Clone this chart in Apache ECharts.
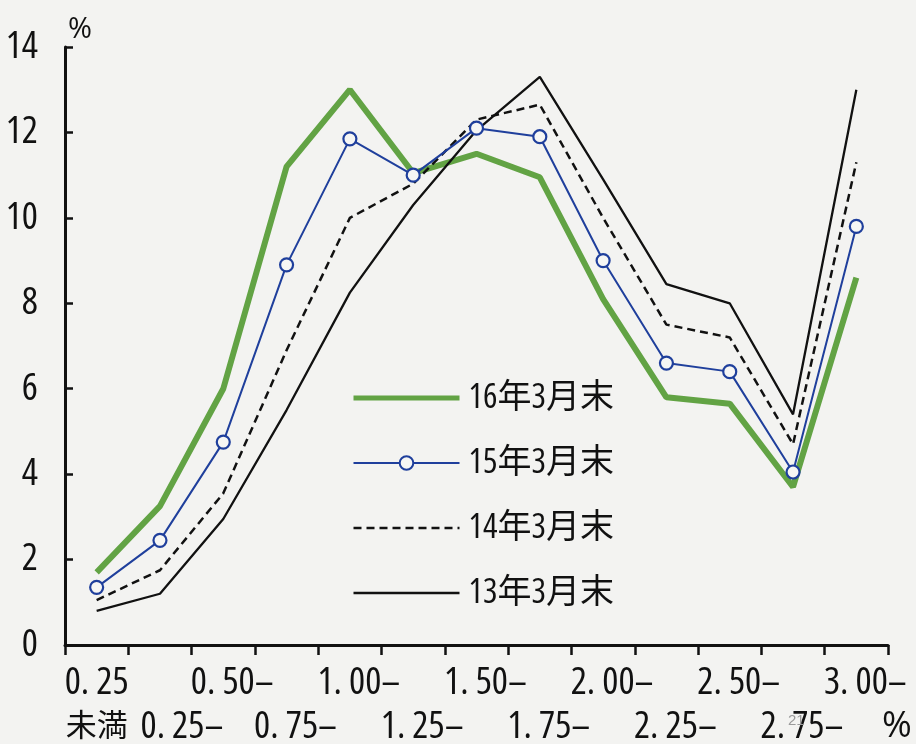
<!DOCTYPE html>
<html>
<head>
<meta charset="utf-8">
<script src="https://cdn.jsdelivr.net/npm/echarts@6/dist/echarts.min.js"></script>
<style>
html,body{margin:0;padding:0;background:#f3f3f1;}
#chart{width:916px;height:744px;}
</style>
</head>
<body>
<div id="chart"></div>
<script>
// Categories (interest-rate bands). Row 1 labels on even indices, row 2 on odd.
var categories = ['0. 25', '0. 25–', '0. 50–', '0. 75–', '1. 00–', '1. 25–', '1. 50–', '1. 75–', '2. 00–', '2. 25–', '2. 50–', '2. 75–', '3. 00–'];
var firstSubLabel = '未満';
var seriesNames = ['16年3月末', '15年3月末', '14年3月末', '13年3月末'];
var y16 = [1.7, 3.25, 6.0, 11.2, 13.0, 11.05, 11.5, 10.95, 8.1, 5.8, 5.65, 3.7, 8.6];
var y15 = [1.35, 2.45, 4.75, 8.9, 11.85, 11.0, 12.1, 11.9, 9.0, 6.6, 6.4, 4.05, 9.8];
var y14 = [1.05, 1.75, 3.55, 6.9, 10.0, 10.8, 12.3, 12.65, 10.0, 7.5, 7.2, 4.7, 11.3];
var y13 = [0.8, 1.2, 2.95, 5.5, 8.25, 10.3, 12.05, 13.3, 10.9, 8.45, 8.0, 5.4, 13.0];
var yTicks = [0, 2, 4, 6, 8, 10, 12, 14];
var unitLabel = '%';
var pageNo = '21';

var FONT = "'Open Sans', 'Noto Sans CJK JP', sans-serif";
var STRETCH = 'condensed';
var chart = echarts.init(document.getElementById('chart'), null, {renderer: 'canvas'});

function txt(size, extra) {
  var o = {fontFamily: FONT, fontWeight: STRETCH, fontSize: size, color: '#111'};
  for (var k in extra) o[k] = extra[k];
  return o;
}

var option = {
  backgroundColor: '#f3f3f1',
  animation: false,
  grid: {left: 65, right: 28, top: 47, bottom: 99, containLabel: false, outerBoundsMode: 'none'},
  legend: {
    orient: 'vertical',
    left: 351,
    top: 381,
    padding: 0,
    itemWidth: 106,
    itemHeight: 17,
    itemGap: 31,
    data: [
      {name: seriesNames[0], itemStyle: {opacity: 0}, lineStyle: {width: 5}},
      {name: seriesNames[1]},
      {name: seriesNames[2], itemStyle: {opacity: 0}, lineStyle: {width: 2.6}},
      {name: seriesNames[3], itemStyle: {opacity: 0}, lineStyle: {width: 2.6}}
    ],
    textStyle: txt(34, {padding: [0, 0, 0, 4]})
  },
  xAxis: {
    type: 'category',
    data: categories,
    boundaryGap: true,
    axisLine: {lineStyle: {color: '#111', width: 3}},
    axisTick: {show: true, inside: false, length: 10, interval: 0, lineStyle: {color: '#111', width: 2.5}},
    axisLabel: {
      interval: 0,
      margin: 16,
      fontFamily: FONT,
      fontWeight: STRETCH,
      fontSize: 38,
      color: '#111',
      lineHeight: 44,
      formatter: function (v, i) {
        if (i === 0) return '{c|' + v + '}\n{k|' + firstSubLabel + '}';
        if (i % 2 === 0) return '{d|' + v + '}\n{d| }';
        if (i === 1) return '{c| }\n{e|' + v + '}';
        return '{c| }\n{d|' + v + '}';
      },
      rich: {
        c: txt(38, {lineHeight: 44}),
        k: txt(31, {lineHeight: 44}),
        d: txt(38, {lineHeight: 44, padding: [0, 0, 0, 18]}),
        e: txt(38, {lineHeight: 44, padding: [0, 0, 0, 44]})
      }
    },
    splitLine: {show: false}
  },
  yAxis: {
    type: 'value',
    min: yTicks[0],
    max: yTicks[yTicks.length - 1],
    interval: 2,
    name: unitLabel,
    nameLocation: 'end',
    nameGap: 3,
    nameTextStyle: {fontFamily: FONT, fontSize: 29, color: '#111', align: 'left', verticalAlign: 'bottom', padding: [0, 0, 0, 3]},
    axisLine: {show: true, lineStyle: {color: '#111', width: 3}},
    axisTick: {show: true, inside: true, length: 8, lineStyle: {color: '#111', width: 2.5}},
    axisLabel: txt(38, {margin: 27}),
    splitLine: {show: false}
  },
  series: [
    {
      name: seriesNames[0], type: 'line', data: y16, z: 2,
      symbol: 'none',
      lineStyle: {color: '#62a344', width: 6},
      itemStyle: {color: '#62a344'}
    },
    {
      name: seriesNames[1], type: 'line', data: y15, z: 5,
      symbol: 'circle', symbolSize: 13,
      lineStyle: {color: '#1f3f9c', width: 2},
      itemStyle: {color: '#f6f6f4', borderColor: '#1f3f9c', borderWidth: 2.2}
    },
    {
      name: seriesNames[2], type: 'line', data: y14, z: 3,
      symbol: 'none',
      lineStyle: {color: '#111', width: 2.5, type: [8, 5]},
      itemStyle: {color: '#111'}
    },
    {
      name: seriesNames[3], type: 'line', data: y13, z: 3,
      symbol: 'none',
      lineStyle: {color: '#111', width: 2.3},
      itemStyle: {color: '#111'}
    }
  ],
  graphic: [
    {type: 'text', left: 882, top: 709, style: {text: unitLabel, font: "36px 'Open Sans', sans-serif", fill: '#111'}},
    {type: 'text', left: 788, top: 713, z: 100, style: {text: pageNo, font: '15px "Liberation Sans", sans-serif', fill: '#9a9a9a'}}
  ]
};
chart.setOption(option);
</script>
</body>
</html>
